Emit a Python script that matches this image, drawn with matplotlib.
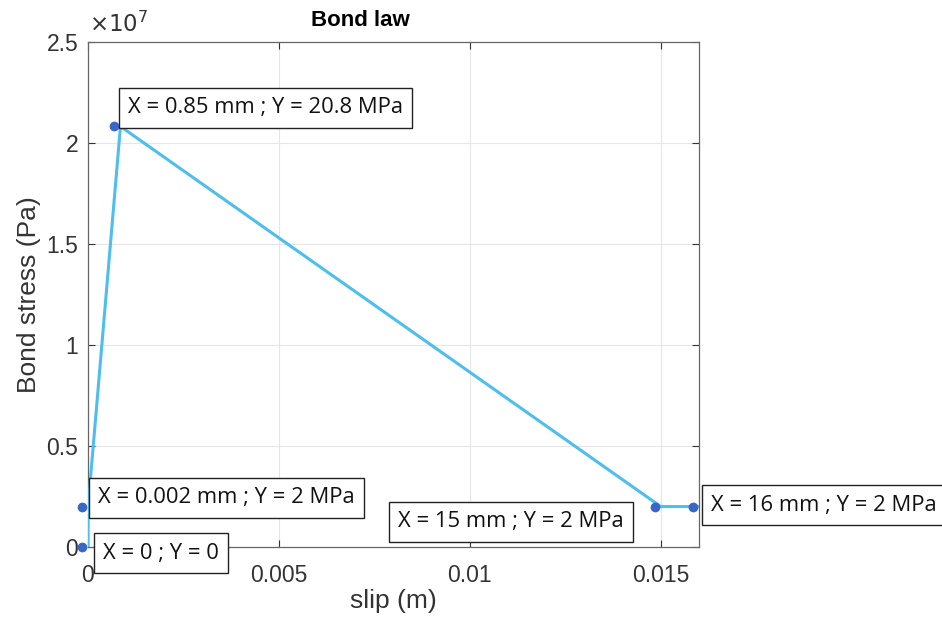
import matplotlib
matplotlib.use('Agg')
import matplotlib.pyplot as plt
import matplotlib.transforms as mtransforms

# bond law points (slip in m, stress in Pa)
slip = [0.0, 0.000002, 0.00085, 0.015, 0.016]
stress = [0.0, 2e6, 20.8e6, 2e6, 2e6]
tipLabels = ['X = 0 ; Y = 0',
             'X = 0.002 mm ; Y = 2 MPa',
             'X = 0.85 mm ; Y = 20.8 MPa',
             'X = 15 mm ; Y = 2 MPa',
             'X = 16 mm ; Y = 2 MPa']
xTicks = [0, 0.005, 0.01, 0.015]
xTickLabels = ['0', '0.005', '0.01', '0.015']
yTicks = [0, 0.5e7, 1e7, 1.5e7, 2e7, 2.5e7]
yTickLabels = ['0', '0.5', '1', '1.5', '2', '2.5']

W, H = 942, 617
fig = plt.figure(figsize=(W/100, H/100), dpi=100)
ax = fig.add_axes([88/W, 1-547/H, (699-88)/W, (547-41.5)/H])

axcol = '#333333'
ax.plot(slip, stress, color='#4DBEEE', lw=2.2, zorder=3)
# datatip markers sit a few pixels left of the line vertices
shift = mtransforms.ScaledTranslation(-6/100, 0, fig.dpi_scale_trans)
ax.plot(slip, stress, 'o', color='#3A66C4', ms=6, zorder=4, clip_on=False,
        transform=ax.transData + shift)

ax.set_xlim(0, 0.016)
ax.set_ylim(0, 2.5e7)
ax.set_xticks(xTicks)
ax.set_xticklabels(xTickLabels)
ax.set_yticks(yTicks)
ax.set_yticklabels(yTickLabels)
ax.grid(True, color='#e6e6e6', lw=0.8)
ax.set_axisbelow(True)
ax.tick_params(direction='in', length=5, color=axcol, labelcolor=axcol,
               labelsize=16.5, top=True, right=True, labeltop=False, labelright=False)
ax.tick_params(axis='x', pad=12)
ax.tick_params(axis='y', pad=7)
for sp in ax.spines.values():
    sp.set_color('#666666')
    sp.set_linewidth(0.9)

fs = 'Liberation Sans'
for lab in ax.get_xticklabels() + ax.get_yticklabels():
    lab.set_family(fs)

ax.set_xlabel('slip (m)', fontsize=19, family=fs, color=axcol, labelpad=2)
ax.set_ylabel('Bond stress (Pa)', fontsize=19, family=fs, color=axcol, labelpad=4)
fig.text(360/W, 1-21/H, 'Bond law', ha='center', va='center', fontsize=16,
         fontweight='bold', family=fs)
fig.text(89/W, 1-24/H, r'$\times10^{7}$', ha='left', va='center', fontsize=16.5,
         color=axcol, family=fs)

# datatip boxes (left edge / vertical centre, in pixels)
boxPos = [(93, 553), (88, 498), (118, 108), (388, 522), (701, 505)]
for (bx, by), txt in zip(boxPos, tipLabels):
    fig.text((bx + 10)/W, 1-by/H, txt, ha='left', va='center', fontsize=15.8,
             family='Open Sans', color='#111111', zorder=6,
             bbox=dict(boxstyle='square,pad=0.42', fc='white', ec='#222222', lw=1.0))

fig.savefig('out.png', dpi=100)
